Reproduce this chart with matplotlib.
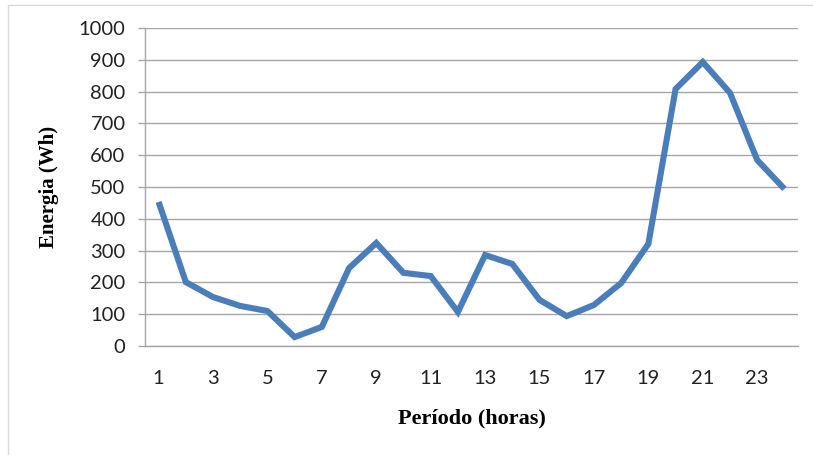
import matplotlib.pyplot as plt
from matplotlib.patches import Rectangle

# Hourly energy consumption (Wh)
horas = list(range(1, 25))
energia = [453, 201, 154, 126, 110, 28, 60, 245, 324, 230, 220, 107,
           286, 258, 145, 94, 129, 198, 321, 808, 893, 796, 585, 494]
ticks_y = list(range(0, 1001, 100))
ticks_x = list(range(1, 25, 2))

fig = plt.figure(figsize=(8.13, 4.55), dpi=100)
ax = fig.add_axes([145 / 813, 1 - 346 / 455, (798 - 145) / 813, (346 - 28) / 455])

# light frame around the whole chart area
fig.patches.append(Rectangle((8 / 813, -0.01), 1.0, 1 - 5 / 455 + 0.01,
                             transform=fig.transFigure, fill=False,
                             edgecolor='#d9d9d9', linewidth=1.0))

ax.plot(horas, energia, color='#4a7ebb', linewidth=4.4,
        solid_joinstyle='miter', solid_capstyle='butt', zorder=3)

ax.set_xlim(0.5, 24.5)
ax.set_ylim(0, 1000)
ax.set_yticks(ticks_y)
ax.set_xticks(ticks_x)
ax.grid(axis='y', color='#a6a6a6', linewidth=1.0)
ax.set_axisbelow(True)

for side in ['top', 'right']:
    ax.spines[side].set_visible(False)
for side in ['left', 'bottom']:
    ax.spines[side].set_color('#a6a6a6')
    ax.spines[side].set_linewidth(1.0)

ax.tick_params(axis='y', length=5, width=1.0, color='#a6a6a6', pad=9,
               labelsize=14.5, labelcolor='#222222')
ax.tick_params(axis='x', length=0, pad=17, labelsize=14.5, labelcolor='#222222')
for lbl in ax.get_xticklabels() + ax.get_yticklabels():
    lbl.set_family('Lato')

ax.set_ylabel('Energia (Wh)', family='Liberation Serif', fontweight='bold',
              fontsize=15, labelpad=14)
ax.set_xlabel('Período (horas)', family='Liberation Serif', fontweight='bold',
              fontsize=16, labelpad=16)

plt.savefig('out.png', dpi=100)
